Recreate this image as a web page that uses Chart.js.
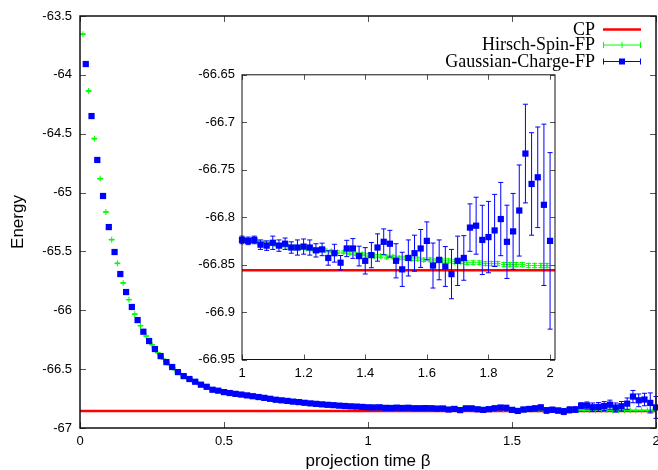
<!DOCTYPE html>
<html>
<head>
<meta charset="utf-8">
<script src="https://cdn.jsdelivr.net/npm/chart.js@4.4.1/dist/chart.umd.min.js"></script>
<style>
  body { margin: 0; background: #fff; }
  #wrap { position: relative; width: 658px; height: 470px; }
  #mainChart { position: absolute; left: 0; top: 0; }
  #insetChart { position: absolute; left: 190px; top: 60px; }
</style>
</head>
<body>
<div id="wrap">
  <canvas id="mainChart" width="658" height="470"></canvas>
  <canvas id="insetChart" width="380" height="330"></canvas>
</div>
<script>
const seriesNames = ['CP', 'Hirsch-Spin-FP', 'Gaussian-Charge-FP'];

const cpEnergy = -66.856;
const cpBeta = [0, 2.1];

const hirschBeta = [
  0.01, 0.03, 0.05, 0.07, 0.09, 0.11, 0.13, 0.15, 0.17, 0.19,
  0.21, 0.23, 0.25, 0.27, 0.29, 0.31, 0.33, 0.35, 0.37, 0.39,
  0.41, 0.43, 0.45, 0.47, 0.49, 0.51, 0.53, 0.55, 0.57, 0.59,
  0.61, 0.63, 0.65, 0.67, 0.69, 0.71, 0.73, 0.75, 0.77, 0.79,
  0.81, 0.83, 0.85, 0.87, 0.89, 0.91, 0.93, 0.95, 0.97, 0.99,
  1.01, 1.03, 1.05, 1.07, 1.09, 1.11, 1.13, 1.15, 1.17, 1.19,
  1.21, 1.23, 1.25, 1.27, 1.29, 1.31, 1.33, 1.35, 1.37, 1.39,
  1.41, 1.43, 1.45, 1.47, 1.49, 1.51, 1.53, 1.55, 1.57, 1.59,
  1.61, 1.63, 1.65, 1.67, 1.69, 1.71, 1.73, 1.75, 1.77, 1.79,
  1.81, 1.83, 1.85, 1.87, 1.89, 1.91, 1.93, 1.95, 1.97, 1.99
];
const hirschEnergy = [
  -63.655, -64.137, -64.542, -64.882, -65.165, -65.400, -65.601, -65.768, -65.910, -66.032,
  -66.131, -66.219, -66.293, -66.361, -66.415, -66.462, -66.505, -66.542, -66.572, -66.596,
  -66.620, -66.641, -66.662, -66.677, -66.689, -66.699, -66.706, -66.713, -66.720, -66.727,
  -66.733, -66.741, -66.748, -66.756, -66.762, -66.768, -66.773, -66.778, -66.783, -66.788,
  -66.793, -66.797, -66.801, -66.804, -66.808, -66.811, -66.814, -66.817, -66.819, -66.822,
  -66.824, -66.825, -66.826, -66.827, -66.828, -66.829, -66.830, -66.831, -66.832, -66.832,
  -66.833, -66.834, -66.835, -66.835, -66.836, -66.837, -66.837, -66.838, -66.839, -66.839,
  -66.840, -66.841, -66.841, -66.842, -66.842, -66.843, -66.843, -66.844, -66.844, -66.845,
  -66.845, -66.846, -66.846, -66.846, -66.847, -66.847, -66.848, -66.848, -66.848, -66.849,
  -66.849, -66.849, -66.850, -66.850, -66.850, -66.850, -66.851, -66.851, -66.851, -66.851
];
const hirschError = [
  0.004, 0.004, 0.004, 0.003, 0.003, 0.003, 0.003, 0.003, 0.002, 0.002,
  0.002, 0.002, 0.002, 0.002, 0.002, 0.002, 0.002, 0.002, 0.002, 0.002,
  0.002, 0.002, 0.002, 0.002, 0.002, 0.002, 0.002, 0.002, 0.002, 0.002,
  0.002, 0.002, 0.002, 0.002, 0.002, 0.002, 0.002, 0.002, 0.002, 0.002,
  0.002, 0.002, 0.002, 0.002, 0.002, 0.002, 0.002, 0.002, 0.002, 0.002,
  0.0015, 0.0015, 0.0015, 0.0015, 0.0015, 0.0015, 0.0015, 0.0015, 0.0015, 0.0015,
  0.0015, 0.0015, 0.0015, 0.0015, 0.0015, 0.0015, 0.0015, 0.0015, 0.0015, 0.0015,
  0.0018, 0.0018, 0.0018, 0.0018, 0.0018, 0.0018, 0.0018, 0.0018, 0.0018, 0.0018,
  0.002, 0.002, 0.002, 0.002, 0.002, 0.002, 0.002, 0.002, 0.002, 0.002,
  0.0022, 0.0022, 0.0022, 0.0022, 0.0022, 0.0022, 0.0022, 0.0022, 0.0022, 0.0022
];

const gaussBeta = [
  0.02, 0.04, 0.06, 0.08, 0.10, 0.12, 0.14, 0.16, 0.18, 0.20,
  0.22, 0.24, 0.26, 0.28, 0.30, 0.32, 0.34, 0.36, 0.38, 0.40,
  0.42, 0.44, 0.46, 0.48, 0.50, 0.52, 0.54, 0.56, 0.58, 0.60,
  0.62, 0.64, 0.66, 0.68, 0.70, 0.72, 0.74, 0.76, 0.78, 0.80,
  0.82, 0.84, 0.86, 0.88, 0.90, 0.92, 0.94, 0.96, 0.98, 1.00,
  1.02, 1.04, 1.06, 1.08, 1.10, 1.12, 1.14, 1.16, 1.18, 1.20,
  1.22, 1.24, 1.26, 1.28, 1.30, 1.32, 1.34, 1.36, 1.38, 1.40,
  1.42, 1.44, 1.46, 1.48, 1.50, 1.52, 1.54, 1.56, 1.58, 1.60,
  1.62, 1.64, 1.66, 1.68, 1.70, 1.72, 1.74, 1.76, 1.78, 1.80,
  1.82, 1.84, 1.86, 1.88, 1.90, 1.92, 1.94, 1.96, 1.98, 2.00
];
const gaussEnergy = [
  -63.908, -64.350, -64.723, -65.029, -65.293, -65.505, -65.692, -65.845, -65.972, -66.083,
  -66.182, -66.261, -66.329, -66.389, -66.440, -66.482, -66.525, -66.559, -66.584, -66.607,
  -66.632, -66.650, -66.675, -66.683, -66.695, -66.703, -66.710, -66.716, -66.723, -66.730,
  -66.737, -66.744, -66.752, -66.760, -66.765, -66.770, -66.776, -66.780, -66.786, -66.791,
  -66.795, -66.799, -66.803, -66.806, -66.810, -66.813, -66.816, -66.818, -66.821, -66.824,
  -66.825, -66.824, -66.829, -66.830, -66.827, -66.830, -66.828, -66.832, -66.832, -66.831,
  -66.832, -66.835, -66.834, -66.843, -66.838, -66.848, -66.833, -66.833, -66.841, -66.846,
  -66.840, -66.832, -66.826, -66.828, -66.846, -66.855, -66.843, -66.838, -66.833, -66.825,
  -66.851, -66.845, -66.852, -66.860, -66.846, -66.843, -66.811, -66.809, -66.824, -66.821,
  -66.814, -66.802, -66.826, -66.815, -66.793, -66.733, -66.765, -66.758, -66.787, -66.825
];
const gaussError = [
  0.003, 0.003, 0.003, 0.003, 0.003, 0.003, 0.003, 0.003, 0.003, 0.003,
  0.003, 0.003, 0.003, 0.003, 0.003, 0.003, 0.003, 0.003, 0.003, 0.003,
  0.003, 0.003, 0.003, 0.003, 0.003, 0.003, 0.003, 0.003, 0.003, 0.003,
  0.003, 0.003, 0.003, 0.003, 0.003, 0.003, 0.003, 0.003, 0.003, 0.003,
  0.003, 0.003, 0.003, 0.003, 0.003, 0.003, 0.004, 0.004, 0.004, 0.004,
  0.004, 0.004, 0.005, 0.005, 0.007, 0.006, 0.006, 0.006, 0.008, 0.008,
  0.008, 0.007, 0.0066, 0.0076, 0.0094, 0.0076, 0.0086, 0.0104, 0.0104, 0.0139,
  0.0133, 0.0144, 0.0136, 0.0141, 0.018, 0.018, 0.019, 0.019, 0.020, 0.020,
  0.0237, 0.021, 0.021, 0.026, 0.026, 0.0235, 0.025, 0.030, 0.0365, 0.0376,
  0.038, 0.0386, 0.0386, 0.040, 0.048, 0.052, 0.054, 0.053, 0.085, 0.093
];

const mainXTicks = [0, 0.5, 1, 1.5, 2];
const mainYTicks = [-67, -66.5, -66, -65.5, -65, -64.5, -64, -63.5];
const insetXTicks = [1, 1.2, 1.4, 1.6, 1.8, 2];
const insetYTicks = [-66.95, -66.9, -66.85, -66.8, -66.75, -66.7, -66.65];

const SANS = '"Liberation Sans", Arial, sans-serif';
const SERIF = '"Liberation Serif", "Times New Roman", serif';
const RED = '#ff0000', GREEN = '#00ff00', BLUE = '#0000ff';

const fmt = v => String(+Number(v).toFixed(2));

function points(xs, ys, minX) {
  const out = [];
  xs.forEach((x, i) => { if (x >= minX) out.push({x: x, y: ys[i]}); });
  return out;
}
function errs(xs, es, minX) {
  return es.filter((e, i) => xs[i] >= minX);
}

function makeDatasets(minX) {
  return [
    {
      label: seriesNames[2], order: 1, clip: false,
      data: points(gaussBeta, gaussEnergy, minX), errors: errs(gaussBeta, gaussError, minX),
      showLine: false, pointStyle: 'rect', pointRadius: 4.4, pointHoverRadius: 4.4,
      backgroundColor: BLUE, borderColor: BLUE, pointBorderWidth: 0
    },
    {
      label: seriesNames[1], order: 2, clip: false,
      data: points(hirschBeta, hirschEnergy, minX), errors: errs(hirschBeta, hirschError, minX),
      showLine: false, pointStyle: 'cross', pointRadius: 3, pointHoverRadius: 3,
      backgroundColor: GREEN, borderColor: GREEN, pointBorderWidth: 1
    },
    {
      label: seriesNames[0], order: 3,
      data: cpBeta.map(b => ({x: b, y: cpEnergy})),
      showLine: true, borderColor: RED, borderWidth: 2.5, pointRadius: 0
    }
  ];
}

// error bars drawn just before each dataset's points
const errorBarPlugin = {
  id: 'errorBars',
  beforeDatasetDraw(chart, args) {
    const ds = chart.data.datasets[args.index];
    if (!ds.errors) return;
    const {ctx, scales: {x, y}} = chart;
    const cap = 2.5;
    ctx.save();
    ctx.strokeStyle = ds.borderColor;
    ctx.lineWidth = 1;
    ctx.beginPath();
    ds.data.forEach((p, i) => {
      const e = ds.errors[i];
      const px = x.getPixelForValue(p.x);
      const y1 = y.getPixelForValue(p.y - e);
      const y2 = y.getPixelForValue(p.y + e);
      ctx.moveTo(px, y1); ctx.lineTo(px, y2);
      ctx.moveTo(px - cap, y1); ctx.lineTo(px + cap, y1);
      ctx.moveTo(px - cap, y2); ctx.lineTo(px + cap, y2);
    });
    ctx.stroke();
    ctx.restore();
  }
};

// gnuplot-like frame with inward ticks on all four sides
const framePlugin = {
  id: 'frame',
  beforeDatasetsDraw(chart) {
    const {ctx, chartArea: a} = chart;
    ctx.save();
    ctx.fillStyle = '#fff';
    ctx.fillRect(a.left, a.top, a.width, a.height);
    ctx.restore();
  },
  afterDatasetsDraw(chart, args, opts) {
    const {ctx, chartArea: a, scales: {x, y}} = chart;
    const len = opts.tickLen;
    ctx.save();
    ctx.strokeStyle = '#555';
    ctx.lineWidth = 1;
    ctx.beginPath();
    x.ticks.forEach(t => {
      const px = Math.round(x.getPixelForValue(t.value)) + 0.5;
      ctx.moveTo(px, a.bottom); ctx.lineTo(px, a.bottom - len);
      ctx.moveTo(px, a.top); ctx.lineTo(px, a.top + len);
    });
    y.ticks.forEach(t => {
      const py = Math.round(y.getPixelForValue(t.value)) + 0.5;
      ctx.moveTo(a.left, py); ctx.lineTo(a.left + len, py);
      ctx.moveTo(a.right, py); ctx.lineTo(a.right - len, py);
    });
    ctx.stroke();
    ctx.strokeStyle = '#111';
    ctx.lineWidth = opts.frameWidth;
    ctx.strokeRect(a.left, a.top, a.right - a.left, a.bottom - a.top);
    ctx.restore();
  }
};

// right-aligned gnuplot key in the top-right corner
const keyPlugin = {
  id: 'key',
  afterDraw(chart) {
    const ctx = chart.ctx;
    const rows = [29.5, 44.5, 61];
    const textRight = 595, x0 = 603, x1 = 641, xm = (x0 + x1) / 2;
    ctx.save();
    ctx.font = '18px ' + SERIF;
    ctx.fillStyle = '#000';
    ctx.textAlign = 'right';
    ctx.textBaseline = 'middle';
    seriesNames.forEach((name, i) => ctx.fillText(name, textRight, rows[i] + 1));
    // CP
    ctx.strokeStyle = RED; ctx.lineWidth = 2.5;
    ctx.beginPath(); ctx.moveTo(x0, rows[0]); ctx.lineTo(x1, rows[0]); ctx.stroke();
    // error-bar samples
    [[GREEN, rows[1]], [BLUE, rows[2]]].forEach(([c, yy], k) => {
      ctx.strokeStyle = c; ctx.lineWidth = 1;
      ctx.beginPath();
      ctx.moveTo(x0, yy + 0.5); ctx.lineTo(x1, yy + 0.5);
      ctx.moveTo(x0 + 0.5, yy - 2.5); ctx.lineTo(x0 + 0.5, yy + 3.5);
      ctx.moveTo(x1 - 0.5, yy - 2.5); ctx.lineTo(x1 - 0.5, yy + 3.5);
      if (k === 0) { ctx.moveTo(xm, yy - 2.5); ctx.lineTo(xm, yy + 3.5); }
      ctx.stroke();
      if (k === 1) { ctx.fillStyle = c; ctx.fillRect(xm - 3, yy - 2.5, 6, 6); }
    });
    ctx.restore();
  }
};

function axis(opts) {
  return {
    type: 'linear', min: opts.min, max: opts.max,
    afterBuildTicks: s => { s.ticks = opts.ticks.map(v => ({value: v})); },
    afterFit: s => {
      if (opts.width !== undefined) s.width = opts.width;
      if (opts.height !== undefined) { s.height = opts.height; s.paddingLeft = 0; s.paddingRight = 0; }
    },
    grid: { display: false, drawTicks: false },
    border: { display: false },
    ticks: {
      color: '#000', padding: opts.pad, autoSkip: false, maxRotation: 0,
      font: { family: SANS, size: 13 }, callback: v => fmt(v)
    },
    title: opts.title ? {
      display: true, text: opts.title, color: '#000',
      font: { family: SANS, size: 17, lineHeight: 1 }, padding: opts.titlePad
    } : { display: false }
  };
}

Chart.defaults.animation = false;

new Chart(document.getElementById('mainChart'), {
  type: 'scatter',
  data: { datasets: makeDatasets(0) },
  options: {
    responsive: false, devicePixelRatio: 1, animation: false,
    layout: { autoPadding: false, padding: { left: 0, right: 2, top: 16, bottom: 0 } },
    plugins: { legend: { display: false }, tooltip: { enabled: false }, frame: { tickLen: 6, frameWidth: 1.5 } },
    scales: {
      x: axis({ min: 0, max: 2, ticks: mainXTicks, height: 42, pad: 6, title: 'projection time β', titlePad: { top: 0, bottom: 0 } }),
      y: axis({ min: -67, max: -63.5, ticks: mainYTicks, width: 80, pad: 8, title: 'Energy', titlePad: { top: 10, bottom: 0 } })
    }
  },
  plugins: [framePlugin, errorBarPlugin, keyPlugin]
});

new Chart(document.getElementById('insetChart'), {
  type: 'scatter',
  data: { datasets: makeDatasets(1) },
  options: {
    responsive: false, devicePixelRatio: 1, animation: false,
    layout: { autoPadding: false, padding: { left: 0, right: 15, top: 13, bottom: 0 } },
    plugins: { legend: { display: false }, tooltip: { enabled: false }, frame: { tickLen: 5, frameWidth: 1 } },
    scales: {
      x: axis({ min: 1, max: 2.016, ticks: insetXTicks, height: 30.5, pad: 6 }),
      y: axis({ min: -66.95, max: -66.65, ticks: insetYTicks, width: 52, pad: 7 })
    }
  },
  plugins: [framePlugin, errorBarPlugin]
});
</script>
</body>
</html>
